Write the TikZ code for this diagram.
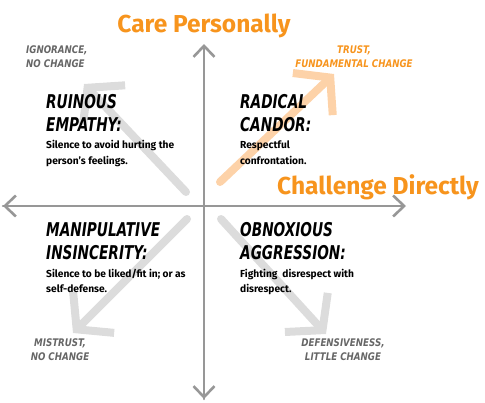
\documentclass[tikz,border=0pt]{standalone}
\usepackage{fontspec}
\usepackage{tikz}
\usetikzlibrary{arrows.meta,positioning}
\setmainfont{Fira Sans}
\newfontfamily\capsfont[FakeStretch=0.8]{DejaVuSansCondensed-BoldOblique.ttf}
\newfontfamily\outfont[FakeStretch=0.92]{DejaVuSansCondensed-BoldOblique.ttf}
\definecolor{candorOrange}{HTML}{F7941D}
\definecolor{candorPale}{HTML}{FDD2A8}
\definecolor{axisGray}{HTML}{979797}
\definecolor{diagGray}{HTML}{DCDCDC}
\definecolor{outGray}{HTML}{666666}

\begin{document}
\begin{tikzpicture}[
      x=1pt, y=-1pt,
      axisline/.style={draw=axisGray, line width=2.6pt, line cap=round,
        -{Straight Barb[length=11pt,width=21pt,line width=2.6pt]}},
      diagarr/.style={draw=diagGray, line width=8pt, line cap=round,
        -{Straight Barb[length=24pt,width=58pt,line width=8pt]}},
      headline/.style={text=candorOrange, inner sep=0pt,
        font=\fontsize{24.5pt}{26pt}\selectfont\bfseries},
      quadtitle/.style={inner sep=0pt, align=left, anchor=north west,
        font=\fontsize{19pt}{23pt}\capsfont},
      quaddesc/.style={inner sep=0pt, align=left, anchor=north west,
        font=\fontsize{10.2pt}{15.5pt}\selectfont\bfseries},
      outcome/.style={inner sep=0pt, text=outGray, align=center,
        font=\fontsize{10.5pt}{14pt}\outfont}
    ]
      \useasboundingbox (0,0) rectangle (485,402);

      % axes
      \coordinate (center) at (204,206);
      \coordinate (north) at (204,44);
      \coordinate (south) at (204,399);
      \coordinate (west) at (3,206);
      \coordinate (east) at (406,206);

      % outcome arrows
      \coordinate (ulfrom) at (186,192);
      \coordinate (ulto) at (84,84);
      \coordinate (urfrom) at (220,182);
      \coordinate (urto) at (334,74);
      \coordinate (llfrom) at (187,219);
      \coordinate (llto) at (73,333);
      \coordinate (lrfrom) at (221,219);
      \coordinate (lrto) at (326,334);

      \draw[diagarr] (ulfrom) -- (ulto);
      \draw[diagarr] (llfrom) -- (llto);
      \draw[diagarr] (lrfrom) -- (lrto);
      \draw[diagarr, draw=candorPale] (urfrom) -- (urto);

      \draw[axisline] (south) -- (north);
      \draw[axisline] (west) -- (east);
      \draw[axisline] (center) -- (south);
      \draw[axisline] (center) -- (west);

      % axis labels
      \node[headline] (care) at (204,26) {Care Personally};
      \node[headline] (challenge) at (378,187) {Challenge Directly};

      % outcomes
      \node[outcome, align=left, anchor=west] (ignorance) at (26,57) {IGNORANCE,\\NO CHANGE};
      \node[outcome, text=candorOrange] (trust) at (354,57) {TRUST,\\FUNDAMENTAL CHANGE};
      \node[outcome] (mistrust) at (60,350) {MISTRUST,\\NO CHANGE};
      \node[outcome] (defensive) at (343,350) {DEFENSIVENESS,\\LITTLE CHANGE};

      % quadrants
      \node[quadtitle] (ruinous) at (46,94) {RUINOUS\\EMPATHY:};
      \node[quaddesc, below=9pt of ruinous.south west, anchor=north west] (ruinousd) {Silence to avoid hurting the\\person's feelings.};
      \node[quadtitle] (radical) at (240,94) {RADICAL\\CANDOR:};
      \node[quaddesc, below=9pt of radical.south west, anchor=north west] (radicald) {Respectful\\confrontation.};
      \node[quadtitle] (manip) at (46,222) {MANIPULATIVE\\INSINCERITY:};
      \node[quaddesc, below=9pt of manip.south west, anchor=north west] (manipd) {Silence to be liked/fit in; or as\\self-defense.};
      \node[quadtitle] (obnox) at (240,222) {OBNOXIOUS\\AGGRESSION:};
      \node[quaddesc, below=9pt of obnox.south west, anchor=north west] (obnoxd) {Fighting\ \ disrespect with\\disrespect.};
    \end{tikzpicture}
\end{document}
